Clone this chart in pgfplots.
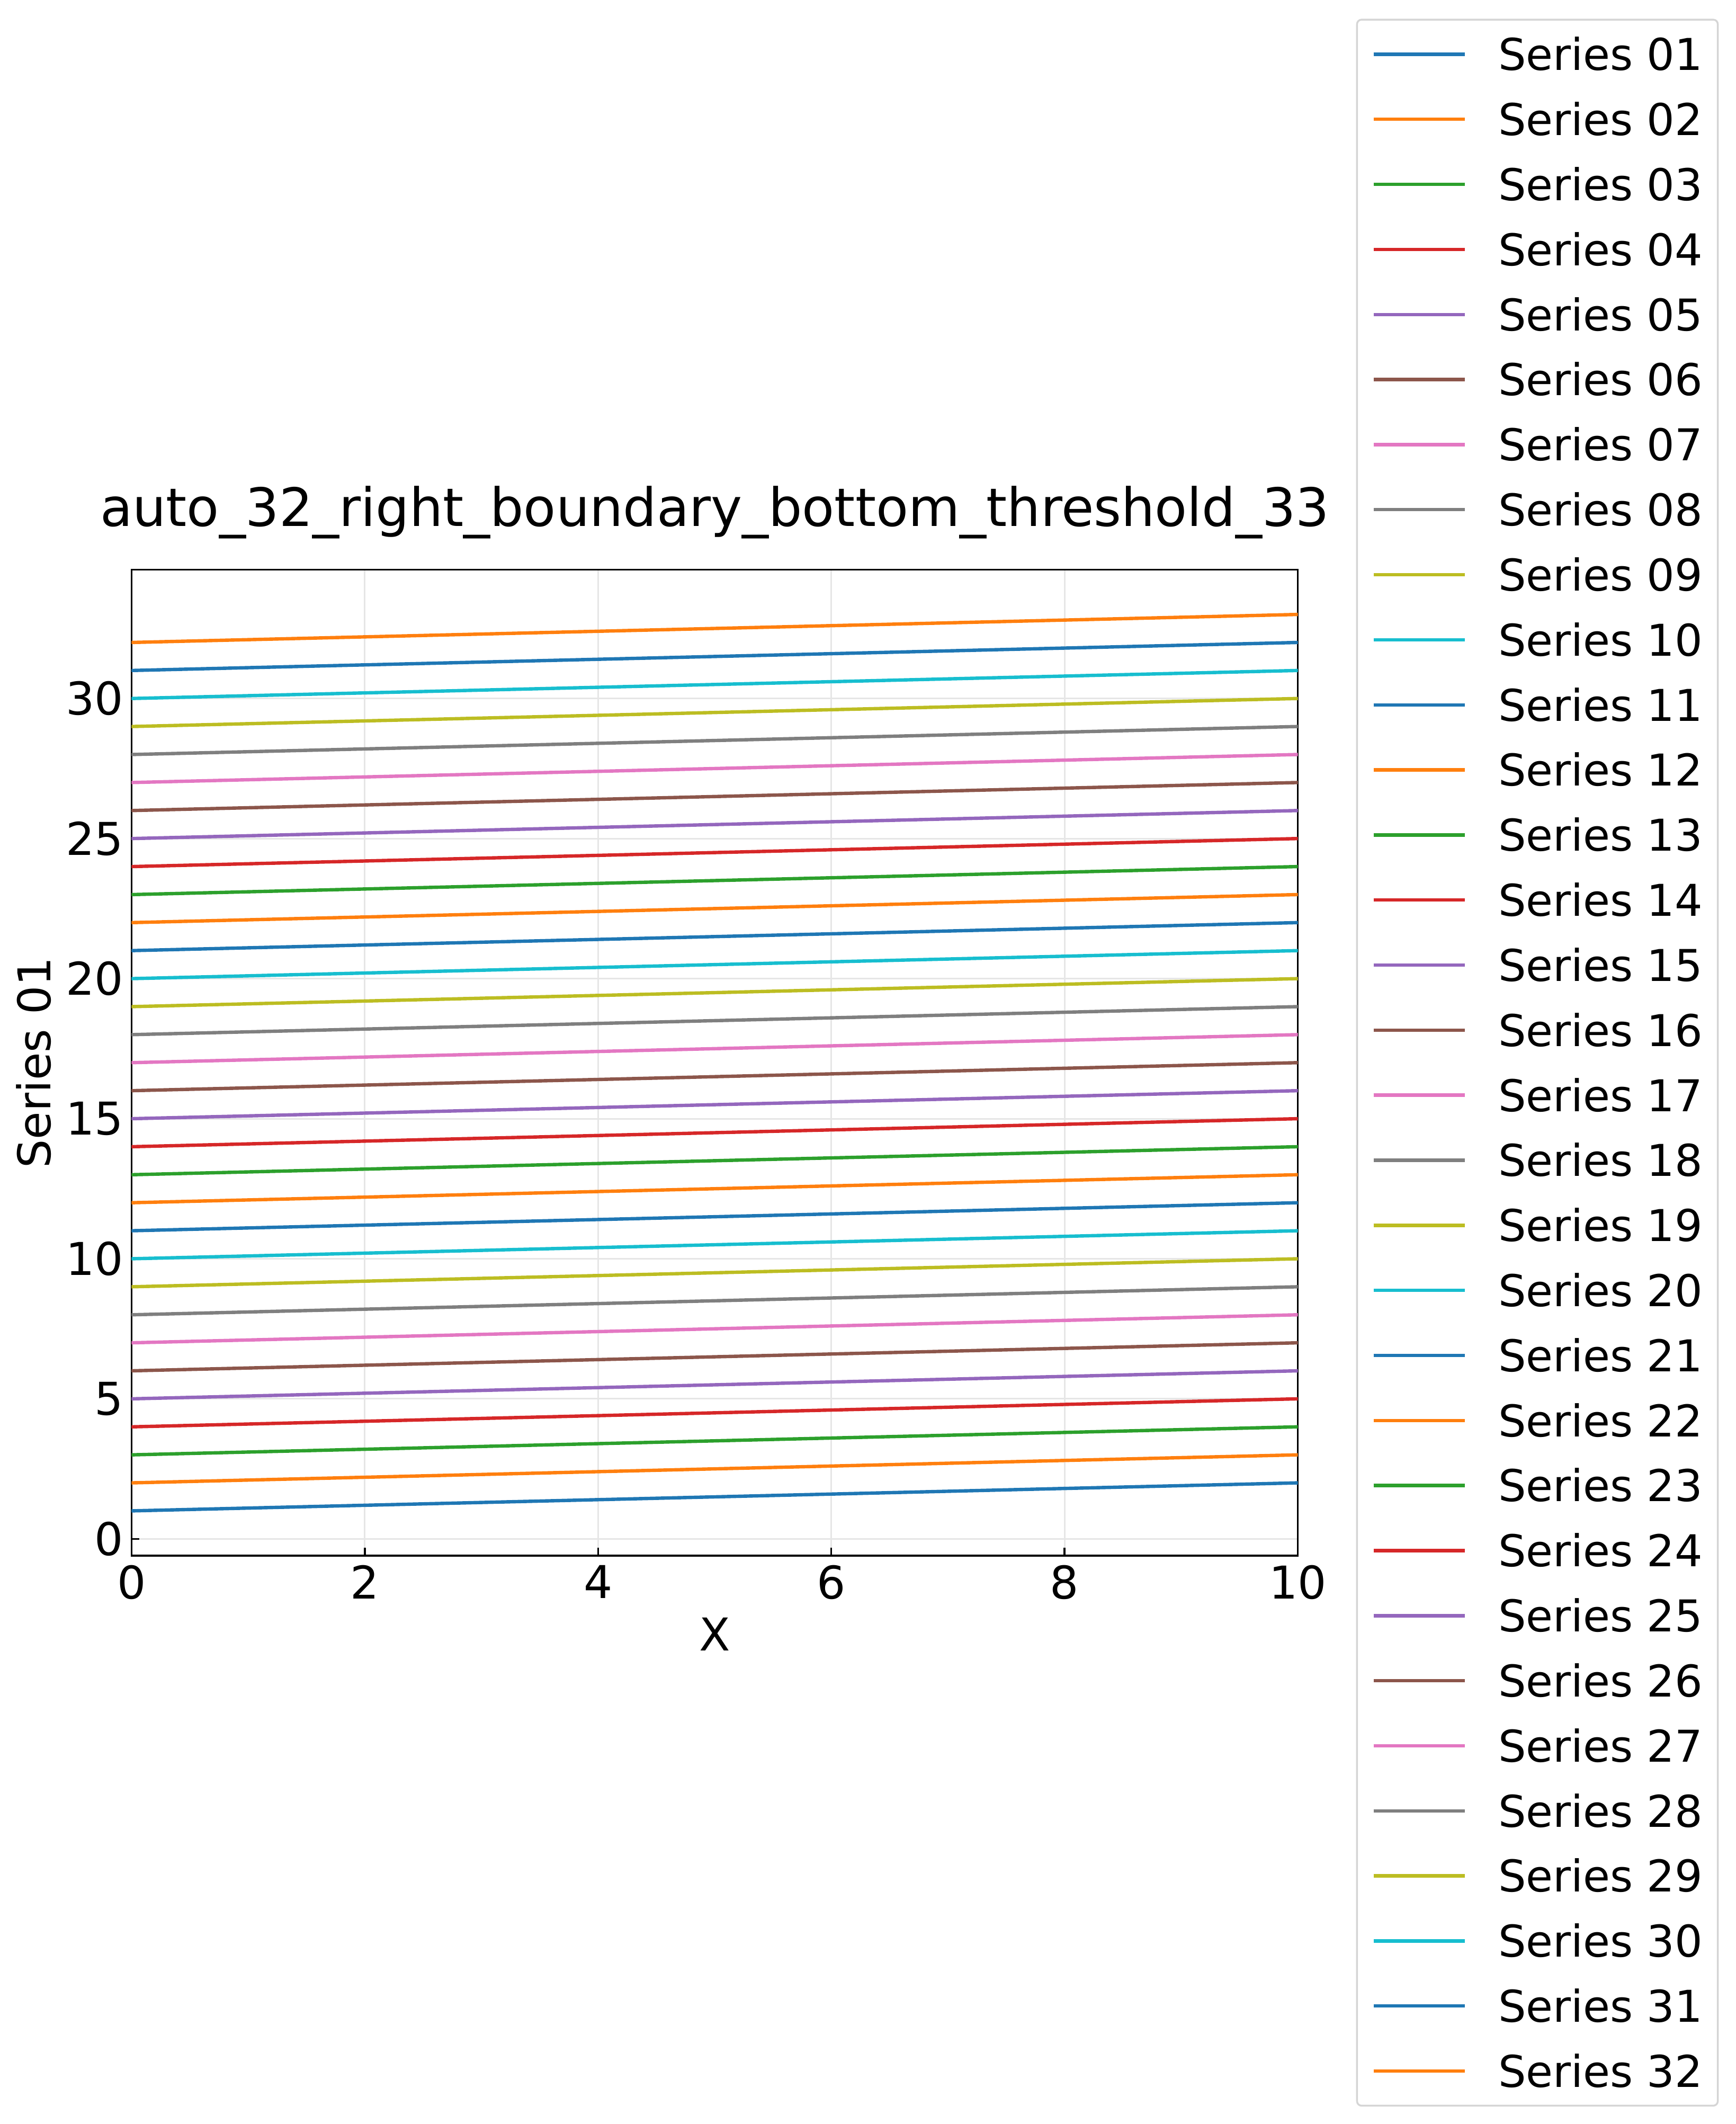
\documentclass[border=0pt]{standalone}
\usepackage{fontspec}
\setmainfont{DejaVu Sans}
\usepackage{pgfplots}
\pgfplotsset{compat=1.18}

% matplotlib tab10
\definecolor{c0}{HTML}{1F77B4}
\definecolor{c1}{HTML}{FF7F0E}
\definecolor{c2}{HTML}{2CA02C}
\definecolor{c3}{HTML}{D62728}
\definecolor{c4}{HTML}{9467BD}
\definecolor{c5}{HTML}{8C564B}
\definecolor{c6}{HTML}{E377C2}
\definecolor{c7}{HTML}{7F7F7F}
\definecolor{c8}{HTML}{BCBD22}
\definecolor{c9}{HTML}{17BECF}
\definecolor{gridgray}{HTML}{E6E6E6}
\definecolor{legendgray}{HTML}{D5D5D5}

\pgfplotscreateplotcyclelist{tabten}{
c0,line width=0.75pt\\ c1,line width=0.75pt\\ c2,line width=0.75pt\\
c3,line width=0.75pt\\ c4,line width=0.75pt\\ c5,line width=0.75pt\\
c6,line width=0.75pt\\ c7,line width=0.75pt\\ c8,line width=0.75pt\\
c9,line width=0.75pt\\
}

\begin{document}
\begin{tikzpicture}
\begin{axis}[
    at={(0,0)}, anchor=south west,
    scale only axis,
    width=258pt, height=218.1pt,
    xmin=0, xmax=10,
    ymin=-0.6, ymax=34.6,
    xtick={0,2,4,6,8,10},
    ytick={0,5,10,15,20,25,30},
    tick align=inside,
    xtick pos=bottom, ytick pos=left,
    major tick length=1.75pt,
    tick style={black, line width=0.4pt},
    axis line style={line width=0.4pt},
    grid=major,
    major grid style={gridgray, line width=0.35pt},
    /pgf/number format/assume math mode=true,
    xticklabel style={inner sep=0pt, anchor=north, yshift=-1.95pt},
    yticklabel style={inner sep=0pt, anchor=east, xshift=-1.6pt},
    title={auto\_32\_right\_boundary\_bottom\_threshold\_33},
    title style={font=\fontsize{11.7}{14}\selectfont, at={(axis description cs:0.5,1)},
        anchor=base, yshift=3.6pt, inner sep=0pt},
    xlabel={X},
    ylabel={Series 01},
    xlabel style={at={(axis description cs:0.5,-0.0798)}, anchor=center, inner sep=0pt},
    ylabel style={at={(axis description cs:-0.0837,0.5)}, anchor=center, inner sep=0pt},
    cycle list name=tabten,
    legend cell align=left,
    legend image code/.code={\draw[#1] (0pt,0pt) -- (20.2pt,0pt);},
    legend style={at={(1.05,0.5)}, anchor=west,
        draw=legendgray, line width=0.4pt, rounded corners=1pt,
        inner xsep=3.3pt, inner ysep=4.1pt,
        row sep=7.29pt, column sep=7pt,
        font=\fontsize{9.7}{12}\selectfont,
        nodes={inner sep=0pt, text height=7.1pt, text depth=0pt}},
]
\addplot coordinates {(0,1) (10,2)};
\addplot coordinates {(0,2) (10,3)};
\addplot coordinates {(0,3) (10,4)};
\addplot coordinates {(0,4) (10,5)};
\addplot coordinates {(0,5) (10,6)};
\addplot coordinates {(0,6) (10,7)};
\addplot coordinates {(0,7) (10,8)};
\addplot coordinates {(0,8) (10,9)};
\addplot coordinates {(0,9) (10,10)};
\addplot coordinates {(0,10) (10,11)};
\addplot coordinates {(0,11) (10,12)};
\addplot coordinates {(0,12) (10,13)};
\addplot coordinates {(0,13) (10,14)};
\addplot coordinates {(0,14) (10,15)};
\addplot coordinates {(0,15) (10,16)};
\addplot coordinates {(0,16) (10,17)};
\addplot coordinates {(0,17) (10,18)};
\addplot coordinates {(0,18) (10,19)};
\addplot coordinates {(0,19) (10,20)};
\addplot coordinates {(0,20) (10,21)};
\addplot coordinates {(0,21) (10,22)};
\addplot coordinates {(0,22) (10,23)};
\addplot coordinates {(0,23) (10,24)};
\addplot coordinates {(0,24) (10,25)};
\addplot coordinates {(0,25) (10,26)};
\addplot coordinates {(0,26) (10,27)};
\addplot coordinates {(0,27) (10,28)};
\addplot coordinates {(0,28) (10,29)};
\addplot coordinates {(0,29) (10,30)};
\addplot coordinates {(0,30) (10,31)};
\addplot coordinates {(0,31) (10,32)};
\addplot coordinates {(0,32) (10,33)};
\legend{Series 01, Series 02, Series 03, Series 04, Series 05, Series 06,
    Series 07, Series 08, Series 09, Series 10, Series 11, Series 12,
    Series 13, Series 14, Series 15, Series 16, Series 17, Series 18,
    Series 19, Series 20, Series 21, Series 22, Series 23, Series 24,
    Series 25, Series 26, Series 27, Series 28, Series 29, Series 30,
    Series 31, Series 32}
\end{axis}
\pgfresetboundingbox
\path (-29.1pt,-125.7pt) rectangle (354.9pt,344.1pt);
\end{tikzpicture}
\end{document}
